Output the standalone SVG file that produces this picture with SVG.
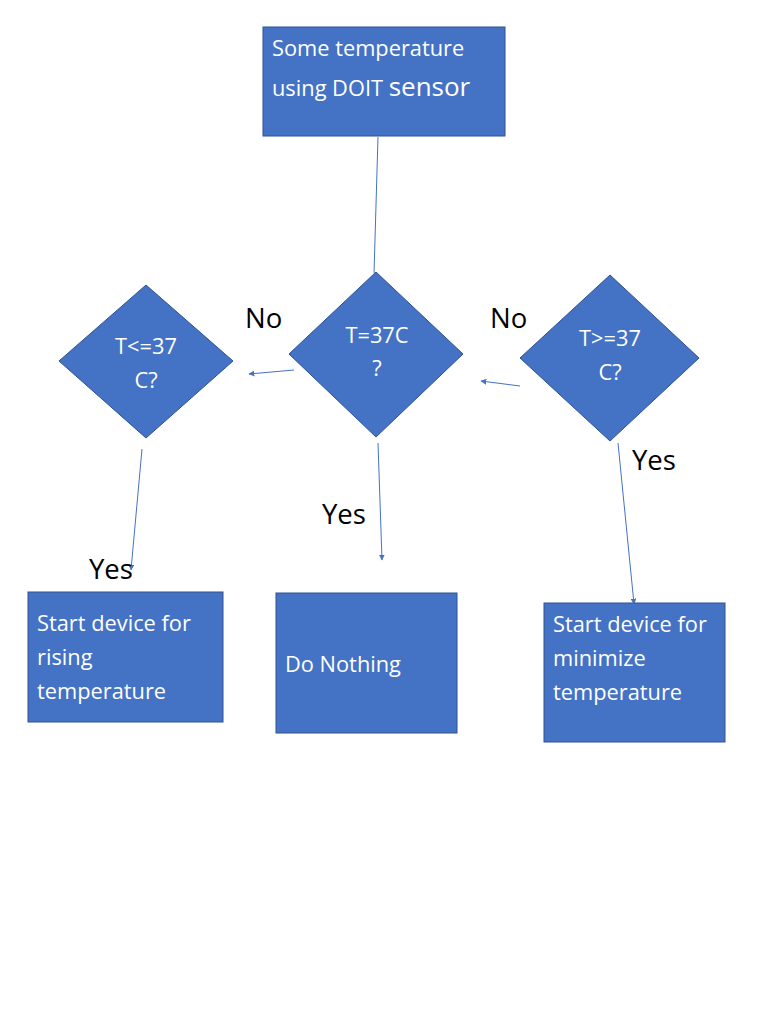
<svg xmlns="http://www.w3.org/2000/svg" width="768" height="1024" viewBox="0 0 768 1024">
<style>
.box{fill:#4472C4;stroke:#2F528F;stroke-width:1}
.t{font-family:"Open Sans","Liberation Sans",sans-serif;fill:#ffffff;font-size:21.8px}
.lbl{font-family:"Open Sans","Liberation Sans",sans-serif;fill:#000000;font-size:27.5px}
.c{stroke:#4472C4;stroke-width:1;fill:none}
</style>
<defs>
<marker id="ah" viewBox="0 0 10 10" refX="9" refY="5" markerWidth="6" markerHeight="6" orient="auto" markerUnits="userSpaceOnUse">
<path d="M0,0 L10,5 L0,10 z" fill="#4472C4"/>
</marker>
</defs>
<rect width="768" height="1024" fill="#ffffff"/>
<g id="connectors">
<line class="c" x1="378" y1="137" x2="374" y2="273"/>
<line class="c" x1="294" y1="370" x2="249" y2="374" marker-end="url(#ah)"/>
<line class="c" x1="520" y1="386" x2="481" y2="381" marker-end="url(#ah)"/>
<line class="c" x1="142" y1="449" x2="131" y2="570" marker-end="url(#ah)"/>
<line class="c" x1="378" y1="443" x2="382" y2="560" marker-end="url(#ah)"/>
<line class="c" x1="618" y1="443" x2="634" y2="604" marker-end="url(#ah)"/>
</g>
<g id="start">
<rect class="box" x="263" y="27" width="242" height="109"/>
<text class="t" x="272" y="56">Some temperature</text>
<text class="t" x="272" y="96">using DOIT <tspan font-size="26">sensor</tspan></text>
</g>
<g id="decision-eq">
<polygon class="box" points="376,272 463,354 376,437 289,354"/>
<text class="t" x="377" y="343" text-anchor="middle">T=37C</text>
<text class="t" x="377" y="376" text-anchor="middle">?</text>
</g>
<g id="decision-le">
<polygon class="box" points="146,285 233,361 146,438 59,361"/>
<text class="t" x="146" y="354" text-anchor="middle">T&lt;=37</text>
<text class="t" x="146" y="388" text-anchor="middle">C?</text>
</g>
<g id="decision-ge">
<polygon class="box" points="610,275 699,358 610,441 520,358"/>
<text class="t" x="610" y="346" text-anchor="middle">T&gt;=37</text>
<text class="t" x="610" y="380" text-anchor="middle">C?</text>
</g>
<g id="labels">
<text class="lbl" x="245" y="328">No</text>
<text class="lbl" x="490" y="328">No</text>
<text class="lbl" x="632" y="470">Yes</text>
<text class="lbl" x="322" y="524">Yes</text>
<text class="lbl" x="89" y="579">Yes</text>
</g>
<g id="rising">
<rect class="box" x="28" y="592" width="195" height="130"/>
<text class="t" x="37" y="631">Start device for</text>
<text class="t" x="37" y="665">rising</text>
<text class="t" x="37" y="699">temperature</text>
</g>
<g id="nothing">
<rect class="box" x="276" y="593" width="181" height="140"/>
<text class="t" x="285" y="672">Do Nothing</text>
</g>
<g id="minimize">
<rect class="box" x="544" y="603" width="181" height="139"/>
<text class="t" x="553" y="632">Start device for</text>
<text class="t" x="553" y="666">minimize</text>
<text class="t" x="553" y="700">temperature</text>
</g>
</svg>
